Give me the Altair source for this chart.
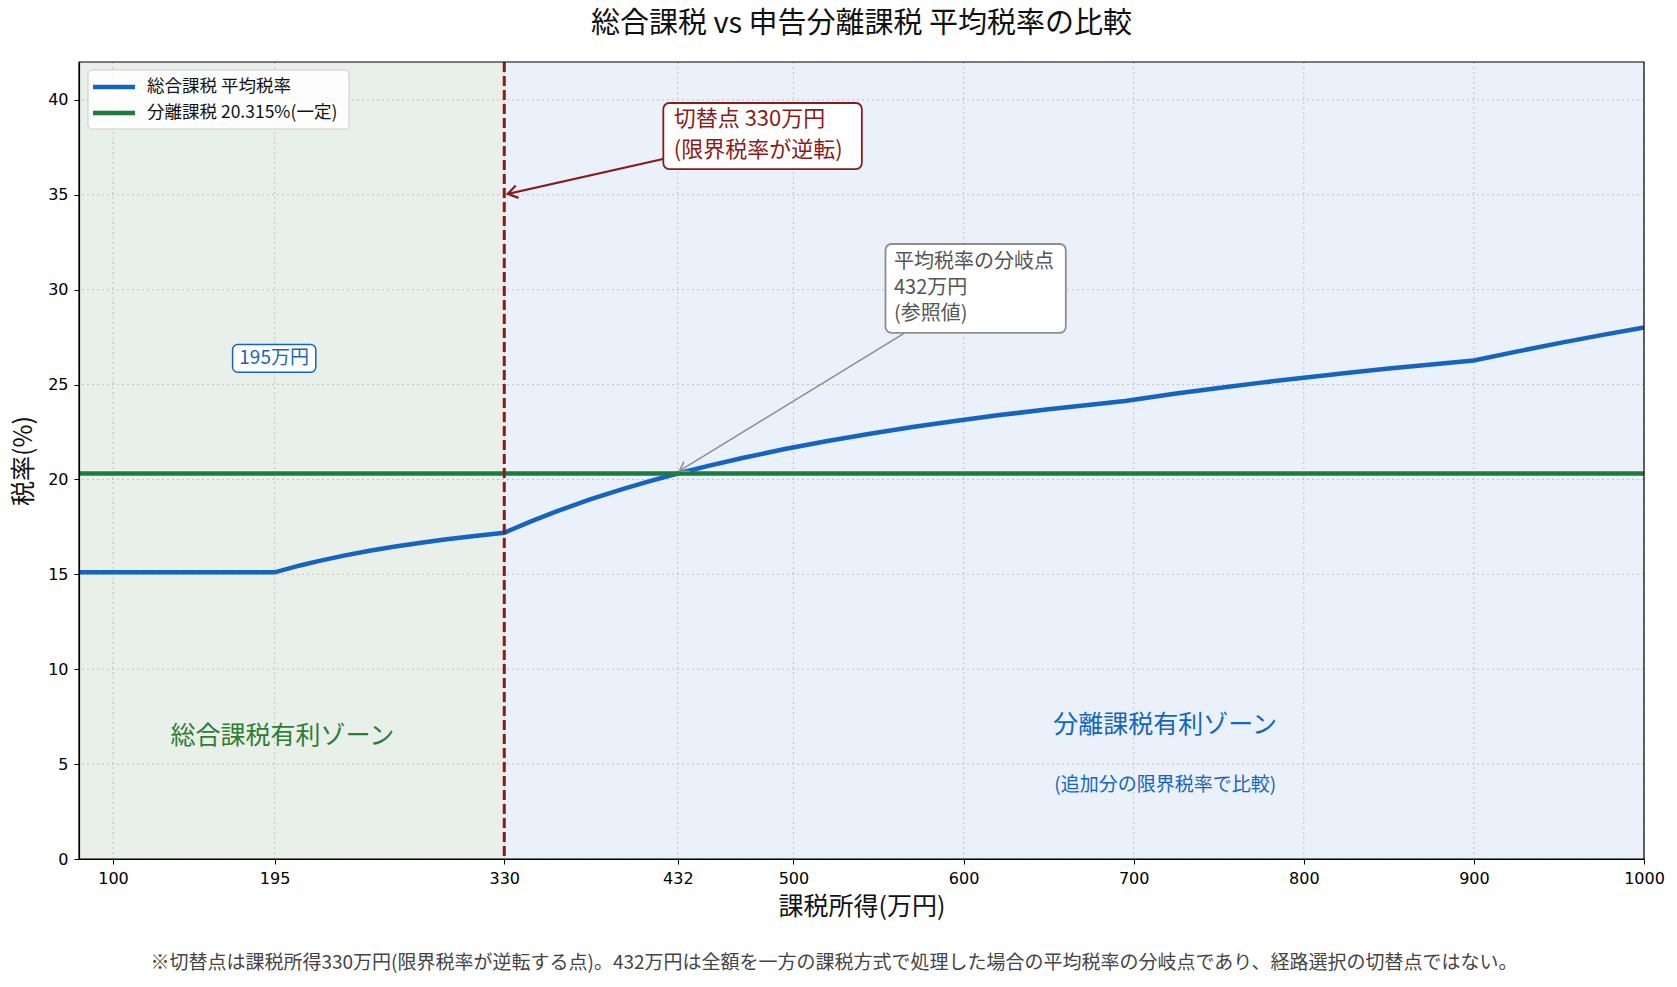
import altair as alt
import pandas as pd

# ---- data -------------------------------------------------------------
# taxable income (万円) and the comprehensive-taxation average rate (%)
income = [80, 100, 150, 195, 210, 220, 235, 250, 265, 280, 295, 310, 330,
          345, 360, 380, 400, 415, 432, 450, 470, 495, 520, 545, 570, 595,
          620, 650, 695, 725, 750, 775, 800, 825, 850, 875, 900, 925, 950,
          975, 1000]
avg_rate = [15.105, 15.105, 15.105, 15.105, 15.470, 15.685, 15.974, 16.228,
            16.453, 16.655, 16.836, 16.999, 17.193, 17.768, 18.296, 18.934,
            19.508, 19.903, 20.316, 20.720, 21.133, 21.602, 22.026, 22.411,
            22.763, 23.084, 23.380, 23.705, 24.140, 24.526, 24.825, 25.104,
            25.366, 25.612, 25.844, 26.062, 26.268, 26.739, 27.185, 27.608,
            28.010]

# separate taxation: flat rate across the whole range
flat_income = [80, 1000]
flat_rate = [20.315, 20.315]

series_names = ["総合課税 平均税率", "分離課税 20.315%(一定)"]
series_colors = ["#1565c0", "#1e7b3e"]

x_ticks = [100, 195, 330, 432, 500, 600, 700, 800, 900, 1000]
y_ticks = [0, 5, 10, 15, 20, 25, 30, 35, 40]

switch_point = 330
crossover_point = 432
crossover_rate = 20.315

zone_start = [80, 330]
zone_end = [330, 1000]
zone_colors = ["#e9f0e9", "#eaf1fa"]

FONT = "Noto Sans CJK JP"
TICK_FONT = "DejaVu Sans"
RED = "#8b1a1a"
GREY = "#8e8e8e"
W, H = 1565, 797

xscale = alt.Scale(domain=[80, 1000], nice=False, zero=False)
yscale = alt.Scale(domain=[0, 42], nice=False, zero=True)
cscale = alt.Scale(domain=series_names, range=series_colors)

x_axis = alt.Axis(values=x_ticks, title="課税所得(万円)", grid=False, format="d",
                  labelFlush=False, labelOverlap=False, zindex=1)
y_axis = alt.Axis(values=y_ticks, title="税率(%)", grid=False, format="d",
                  zindex=1)


def X(field):
    return alt.X(field, type="quantitative", scale=xscale, axis=x_axis)


def Y(field):
    return alt.Y(field, type="quantitative", scale=yscale, axis=y_axis)


# ---- background zones ---------------------------------------------------
zones_df = pd.DataFrame({"x": zone_start, "x2": zone_end, "c": zone_colors})
zones = alt.Chart(zones_df).mark_rect().encode(
    x=X("x"), x2="x2",
    color=alt.Color("c:N", scale=None),
)

# ---- dotted grid --------------------------------------------------------
xgrid = alt.Chart(pd.DataFrame({"x": x_ticks})).mark_rule(
    color="#c2c2c2", strokeDash=[2, 3], strokeWidth=1
).encode(x=X("x"))
ygrid = alt.Chart(pd.DataFrame({"y": y_ticks})).mark_rule(
    color="#c2c2c2", strokeDash=[2, 3], strokeWidth=1
).encode(y=Y("y"))

# ---- series -------------------------------------------------------------
curve_df = pd.DataFrame({"income": income, "rate": avg_rate,
                         "series": series_names[0]})
flat_df = pd.DataFrame({"income": flat_income, "rate": flat_rate,
                        "series": series_names[1]})

curve = alt.Chart(curve_df).mark_line(strokeWidth=4.5).encode(
    x=X("income"), y=Y("rate"),
    color=alt.Color("series:N", scale=cscale, legend=None),
)
flat = alt.Chart(flat_df).mark_line(strokeWidth=4.5).encode(
    x=X("income"), y=Y("rate"),
    color=alt.Color("series:N", scale=cscale, legend=None),
)

# ---- switch-point marker --------------------------------------------------
vline = alt.Chart(pd.DataFrame({"x": [switch_point]})).mark_rule(
    color=RED, strokeWidth=3, strokeDash=[10, 4]
).encode(x=X("x"))

# ---- legend (top-left, inside the plot) ---------------------------------
legend_layers = [
    alt.Chart(pd.DataFrame({"k": [0]})).mark_rect(
        fill="white", fillOpacity=0.85, stroke="#cccccc", strokeWidth=1,
        cornerRadius=4
    ).encode(x=alt.value(9), x2=alt.value(270),
             y=alt.value(8), y2=alt.value(67))
]
for i, (name, col) in enumerate(zip(series_names, series_colors)):
    row_df = pd.DataFrame({"series": [name]})
    row_y = 25 + 26 * i
    legend_layers.append(
        alt.Chart(row_df).mark_rule(strokeWidth=4.5, color=col).encode(
            x=alt.value(14), x2=alt.value(56),
            y=alt.value(row_y), y2=alt.value(row_y))
    )
    legend_layers.append(
        alt.Chart(row_df).mark_text(
            font=FONT, fontSize=17.5, color="#111111", align="left",
            baseline="middle"
        ).encode(x=alt.value(68), y=alt.value(row_y), text="series:N")
    )

# ---- annotations ----------------------------------------------------------
CHEVRON = "M -1 -0.65 L 0 0 L -1 0.65"

# switch point callout
red_arrow = alt.Chart(pd.DataFrame(
    {"x": [424], "y": [36.9], "x2": [332], "y2": [35.05]}
)).mark_rule(color=RED, strokeWidth=2.2).encode(
    x=X("x"), y=Y("y"), x2="x2", y2="y2")
red_head = alt.Chart(pd.DataFrame({"x": [332], "y": [35.05]})).mark_point(
    shape=CHEVRON, size=380, angle=167, filled=False, color=RED,
    strokeWidth=2.2, opacity=1
).encode(x=X("x"), y=Y("y"))
red_box = alt.Chart(pd.DataFrame(
    {"x": [423.5], "x2": [540.2], "y": [39.84], "y2": [36.36]}
)).mark_rect(fill="white", stroke=RED, strokeWidth=1.8, cornerRadius=6).encode(
    x=X("x"), x2="x2", y=Y("y"), y2="y2")
red_text = alt.Chart(pd.DataFrame(
    {"x": [429.6], "y": [38.98], "t": ["切替点 330万円\n(限界税率が逆転)"]}
)).mark_text(font=FONT, fontSize=22, color=RED, align="left",
             baseline="middle", lineBreak="\n", lineHeight=31).encode(
    x=X("x"), y=Y("y"), text="t:N")

# crossover callout
grey_arrow = alt.Chart(pd.DataFrame(
    {"x": [565], "y": [27.7], "x2": [433], "y2": [20.45]}
)).mark_rule(color=GREY, strokeWidth=1.6).encode(
    x=X("x"), y=Y("y"), x2="x2", y2="y2")
grey_head = alt.Chart(pd.DataFrame(
    {"x": [crossover_point + 1], "y": [crossover_rate + 0.13]}
)).mark_point(
    shape=CHEVRON, size=300, angle=148.5, filled=False, color=GREY,
    strokeWidth=1.6, opacity=1
).encode(x=X("x"), y=Y("y"))
grey_box = alt.Chart(pd.DataFrame(
    {"x": [554.1], "x2": [660.1], "y": [32.41], "y2": [27.73]}
)).mark_rect(fill="white", stroke=GREY, strokeWidth=1.8, cornerRadius=6).encode(
    x=X("x"), x2="x2", y=Y("y"), y2="y2")
grey_text = alt.Chart(pd.DataFrame(
    {"x": [559.1], "y": [31.45], "t": ["平均税率の分岐点\n432万円\n(参照値)"]}
)).mark_text(font=FONT, fontSize=20, color="#555555", align="left",
             baseline="middle", lineBreak="\n", lineHeight=26).encode(
    x=X("x"), y=Y("y"), text="t:N")

# first bracket boundary label
b195_box = alt.Chart(pd.DataFrame(
    {"x": [170.3], "x2": [219.2], "y": [27.11], "y2": [25.65]}
)).mark_rect(fill="white", stroke="#1565c0", strokeWidth=1.5,
             cornerRadius=5).encode(x=X("x"), x2="x2", y=Y("y"), y2="y2")
b195_text = alt.Chart(pd.DataFrame(
    {"x": [194.7], "y": [26.38], "t": ["195万円"]}
)).mark_text(font=FONT, fontSize=19, color="#1565c0", align="center",
             baseline="middle").encode(x=X("x"), y=Y("y"), text="t:N")

# zone labels
zone_text_df = pd.DataFrame({
    "x": [199.5, 718.5, 718.5],
    "y": [6.47, 7.05, 3.89],
    "t": ["総合課税有利ゾーン", "分離課税有利ゾーン", "(追加分の限界税率で比較)"],
    "c": ["#2e7d32", "#1565c0", "#1565c0"],
    "s": [25, 25, 19],
})
zone_text = alt.Chart(zone_text_df).mark_text(
    font=FONT, align="center", baseline="middle"
).encode(
    x=X("x"), y=Y("y"), text="t:N",
    color=alt.Color("c:N", scale=None),
    size=alt.Size("s:Q", scale=None),
)

# plot frame drawn over the shaded zones
frame = alt.Chart(pd.DataFrame({"k": [0]})).mark_rect(
    fillOpacity=0, stroke="black", strokeWidth=1.2
).encode(x=alt.value(0), x2=alt.value(W), y=alt.value(0), y2=alt.value(H))

# footnote below the plot
note = alt.Chart(pd.DataFrame({"t": [
    "※切替点は課税所得330万円(限界税率が逆転する点)。432万円は全額を一方の課税方式で処理した場合の平均税率の分岐点であり、経路選択の切替点ではない。"
]})).mark_text(font=FONT, fontSize=19, color="#444444", align="center",
               baseline="middle").encode(
    x=alt.value(755), y=alt.value(901), text="t:N")

chart = alt.layer(
    zones, xgrid, ygrid, curve, flat, vline,
    red_arrow, red_head, grey_arrow, grey_head,
    red_box, red_text, grey_box, grey_text, b195_box, b195_text,
    zone_text, *legend_layers, frame, note,
).resolve_scale(
    color="independent"
).properties(
    width=W, height=H,
    autosize=alt.AutoSizeParams(type="none"),
    padding={"left": 79, "top": 62, "right": 33, "bottom": 128},
    title=alt.TitleParams(
        "総合課税 vs 申告分離課税 平均税率の比較",
        font=FONT, fontSize=29, fontWeight="normal", color="#111111",
        anchor="middle", offset=22,
    ),
).configure_view(
    stroke=None,
).configure_axis(
    domainColor="black", domainWidth=1.2, tickColor="black", tickSize=5,
    labelFont=TICK_FONT, labelFontSize=16, labelColor="black",
    labelPadding=6,
    titleFont=FONT, titleFontSize=25, titleFontWeight="normal",
    titleColor="#111111",
).configure_axisX(
    titlePadding=8,
).configure_axisY(
    titlePadding=11,
)

chart.save("out.html", embed_options={"renderer": "svg", "actions": False})
